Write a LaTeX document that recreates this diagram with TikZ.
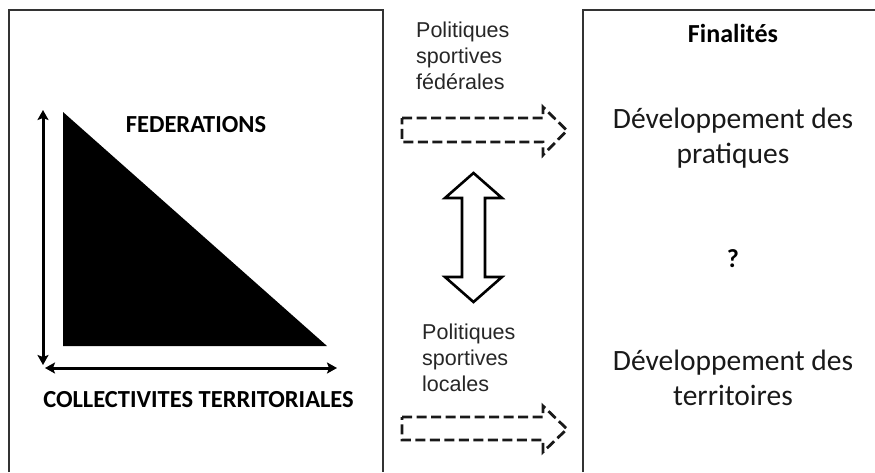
\documentclass[tikz,border=0pt]{standalone}
\usepackage{fontspec}
\setmainfont{Carlito}
\newfontfamily\arialfont{Liberation Sans}
\usetikzlibrary{arrows.meta}
\begin{document}
\begin{tikzpicture}[x=1pt,y=-1pt,
  frame/.style={draw=black!80, line width=2pt},
  axis/.style={line width=3pt, {Stealth[length=10pt,width=11pt,inset=2pt]}-{Stealth[length=10pt,width=11pt,inset=2pt]}},
  dasharrow/.style={draw=black!90, line width=2.8pt, dash pattern=on 10pt off 4.5pt, line join=miter},
  bigarrow/.style={draw=black, line width=2.6pt, line join=miter},
  captxt/.style={font=\bfseries\fontsize{24.5}{29}\selectfont, inner sep=0pt, anchor=base},
  poltxt/.style={font=\arialfont\fontsize{21.5}{26}\selectfont, text=black!85, align=left, inner sep=0pt, anchor=north west},
  fintxt/.style={font=\fontsize{29.5}{35}\selectfont, align=center, inner sep=0pt, anchor=north, text=black!90}]
\useasboundingbox (0,0) rectangle (875,472);
% frames (open at bottom / right)
\draw[frame] (9,472) -- (9,10) -- (383,10) -- (383,472);
\draw[frame] (583,472) -- (583,10) -- (875,10);
% triangle
\coordinate (tA) at (63,112);
\coordinate (tB) at (63,346);
\coordinate (tC) at (327,346);
\fill[black] (tA) -- (tB) -- (tC) -- cycle;
% axes
\coordinate (vTop) at (43,110);
\coordinate (vBot) at (43,365);
\coordinate (hLeft) at (45,368);
\coordinate (hRight) at (337,368);
\draw[axis] (vTop) -- (vBot);
\draw[axis] (hLeft) -- (hRight);
% labels left
\node[captxt] (fed) at (196,132) {FEDERATIONS};
\node[captxt] (coll) at (198.5,407) {COLLECTIVITES TERRITORIALES};
% middle texts
\node[poltxt] (polfed) at (416,22) {Politiques\\sportives\\fédérales};
\node[poltxt] (polloc) at (422,323.5) {Politiques\\sportives\\locales};
% dashed arrows
\draw[dasharrow] (402,118) -- (543,118) -- (543,107) -- (567,130.5) -- (543,155) -- (543,142) -- (402,142) -- cycle;
\draw[dasharrow] (402,417) -- (543,417) -- (543,406) -- (567,429) -- (543,452) -- (543,440) -- (402,440) -- cycle;
% double arrow
\draw[bigarrow] (473.5,173) -- (502,198) -- (485,198) -- (485,277) -- (502,277) -- (473.5,302)
  -- (445,277) -- (462,277) -- (462,198) -- (445,198) -- cycle;
% right box texts
\node[font=\bfseries\fontsize{26}{30}\selectfont, inner sep=0pt, anchor=base] (fin) at (733,42) {Finalités};
\node[fintxt] (devp) at (733,108) {Développement des\\pratiques};
\node[font=\bfseries\fontsize{26}{30}\selectfont, inner sep=0pt, anchor=base] (q) at (733,267) {?};
\node[fintxt] (devt) at (733,350) {Développement des\\territoires};
\end{tikzpicture}
\end{document}
